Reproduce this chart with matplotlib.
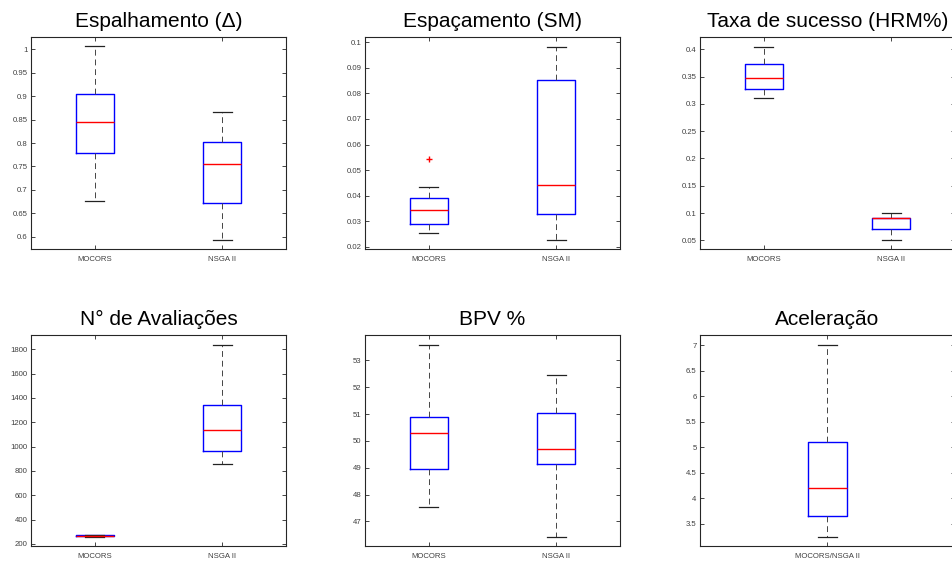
import matplotlib
matplotlib.use("Agg")
import matplotlib.pyplot as plt
from matplotlib.ticker import MultipleLocator, FuncFormatter

plt.rcParams['font.family'] = ['Liberation Sans', 'DejaVu Sans']

# whisker low, Q1, median, Q3, whisker high
algos = ["MOCORS", "NSGA II"]

spread_mocors = [0.677, 0.779, 0.8445, 0.904, 1.006]
spread_nsga = [0.594, 0.673, 0.7557, 0.803, 0.867]

spacing_mocors = [0.0256, 0.0291, 0.0345, 0.0390, 0.0436]
spacing_nsga = [0.0228, 0.0328, 0.0443, 0.0854, 0.0982]
spacing_mocors_out = [0.0542]

hrm_mocors = [0.3102, 0.3267, 0.3469, 0.3731, 0.4049]
hrm_nsga = [0.0506, 0.0701, 0.0909, 0.0909, 0.1007]

evals_mocors = [261, 265, 268, 270, 274]
evals_nsga = [854, 966, 1139, 1345, 1838]

bpv_mocors = [47.55, 48.95, 50.31, 50.88, 53.59]
bpv_nsga = [46.43, 49.14, 49.70, 51.03, 52.45]

speedup_label = ["MOCORS/NSGA II"]
speedup = [3.245, 3.651, 4.194, 5.109, 7.0]

panels = [
    ("Espalhamento (\u0394)", algos, [spread_mocors, spread_nsga], [[], []], (0.574, 1.026), 0.05),
    ("Espaçamento (SM)", algos, [spacing_mocors, spacing_nsga], [spacing_mocors_out, []], (0.0192, 0.102), 0.01),
    ("Taxa de sucesso (HRM%)", algos, [hrm_mocors, hrm_nsga], [[], []], (0.0341, 0.4226), 0.05),
    ("N° de Avaliações", algos, [evals_mocors, evals_nsga], [[], []], (183, 1918), 200),
    ("BPV %", algos, [bpv_mocors, bpv_nsga], [[], []], (46.08, 53.95), 1),
    ("Aceleração", speedup_label, [speedup], [[]], (3.062, 7.196), 0.5),
]

W, H = 953, 562
fig = plt.figure(figsize=(W / 100, H / 100), dpi=100)

cols = [31, 365, 700]
rows = [(37, 249), (335, 546)]
ax_w = 255

for k, (title, names, vals, outs, ylim, step) in enumerate(panels):
    top, bot = rows[k // 3]
    left = cols[k % 3]
    ax = fig.add_axes([left / W, 1 - bot / H, ax_w / W, (bot - top) / H])

    stats = []
    for name, v, f in zip(names, vals, outs):
        lo, q1, med, q3, hi = v
        stats.append(dict(label=name, whislo=lo, q1=q1, med=med, q3=q3, whishi=hi, fliers=f))
    n = len(stats)
    bw = 0.3 if n == 2 else 0.15
    ax.bxp(stats, positions=range(1, n + 1), widths=bw, capwidths=bw * 0.5,
           boxprops=dict(color="#0000ff", linewidth=1.0),
           medianprops=dict(color="#ff0000", linewidth=1.0),
           whiskerprops=dict(color="#444444", linewidth=0.7, linestyle=(0, (6, 4))),
           capprops=dict(color="#222222", linewidth=0.9),
           flierprops=dict(marker="+", markeredgecolor="#ff0000", markersize=4, markeredgewidth=1.0))

    ax.set_xlim(0.5, n + 0.5)
    ax.set_ylim(*ylim)
    ax.yaxis.set_major_locator(MultipleLocator(step))
    ax.yaxis.set_major_formatter(FuncFormatter(lambda v, p: "%g" % round(v, 6)))
    ax.tick_params(direction="in", length=3, width=0.6, top=True, right=True,
                   labelsize=5.6, labelcolor="#404040", color="#262626")
    ax.tick_params(axis="y", pad=2.5)
    ax.tick_params(axis="x", pad=5)
    for s in ax.spines.values():
        s.set_linewidth(0.8)
        s.set_color("#262626")
    ax.set_title(title, fontsize=15, pad=7)

fig.savefig("out.png", dpi=100)
